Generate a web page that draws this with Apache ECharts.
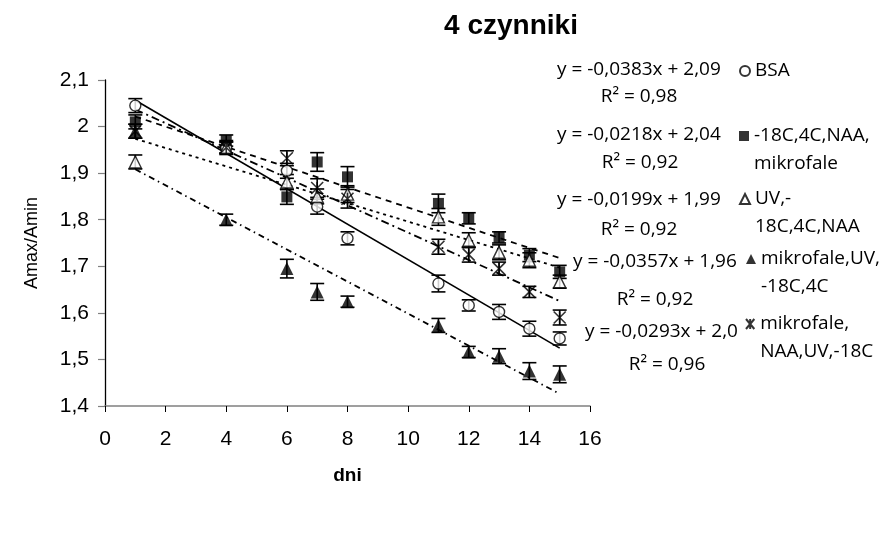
<!DOCTYPE html>
<html>
<head>
<meta charset="utf-8">
<script src="https://cdn.jsdelivr.net/npm/echarts@6/dist/echarts.min.js"></script>
<style>
  html, body { margin: 0; padding: 0; background: #fff; }
  #chart { width: 892px; height: 533px; }
</style>
</head>
<body>
<div id="chart"></div>
<script>
var days = [1, 4, 6, 7, 8, 11, 12, 13, 14, 15];

var bsa = [2.045, 1.955, 1.905, 1.828, 1.76, 1.663, 1.616, 1.602, 1.566, 1.545];
var sqr = [2.01, 1.97, 1.849, 1.924, 1.892, 1.835, 1.803, 1.762, 1.724, 1.688];
var triOpen = [1.924, 1.955, 1.881, 1.85, 1.855, 1.806, 1.756, 1.73, 1.713, 1.667];
var triFull = [1.99, 1.80, 1.695, 1.645, 1.624, 1.573, 1.516, 1.507, 1.475, 1.468];
var aster = [1.99, 1.955, 1.932, 1.868, 1.845, 1.742, 1.725, 1.695, 1.645, 1.59];

var errBsa = [0.015, 0.015, 0.016, 0.016, 0.014, 0.018, 0.012, 0.016, 0.016, 0.014];
var errSqr = [0.015, 0.012, 0.016, 0.02, 0.022, 0.02, 0.012, 0.012, 0.014, 0.014];
var errTriOpen = [0.015, 0.012, 0.016, 0.016, 0.018, 0.018, 0.016, 0.016, 0.016, 0.014];
var errTriFull = [0.015, 0.012, 0.02, 0.018, 0.012, 0.015, 0.012, 0.016, 0.018, 0.018];
var errAster = [0.015, 0.012, 0.016, 0.02, 0.02, 0.016, 0.016, 0.014, 0.012, 0.016];

var yTicks = [1.4, 1.5, 1.6, 1.7, 1.8, 1.9, 2.0, 2.1];

var names = ['BSA', '-18C,4C,NAA,mikrofale', 'UV,-18C,4C,NAA', 'mikrofale,UV,-18C,4C', 'mikrofale,NAA,UV,-18C'];
var legendLines = [['BSA'], ['-18C,4C,NAA,', 'mikrofale'], ['UV,-', '18C,4C,NAA'], ['mikrofale,UV,', '-18C,4C'], ['mikrofale,', 'NAA,UV,-18C']];
var equations = ['y = -0,0383x + 2,09', 'y = -0,0218x + 2,04', 'y = -0,0199x + 1,99', 'y = -0,0357x + 1,96', 'y = -0,0293x + 2,0'];
var rSquared = ['R² = 0,98', 'R² = 0,92', 'R² = 0,92', 'R² = 0,92', 'R² = 0,96'];

var allY = [bsa, sqr, triOpen, triFull, aster];
var allErr = [errBsa, errSqr, errTriOpen, errTriFull, errAster];

var dom = document.getElementById('chart');
var myChart = echarts.init(dom, null, { renderer: 'canvas' });

var FONT = 'Open Sans';
var asteriskPath = 'path://M0,0L10,12M10,0L0,12M5,0L5,12';

var markers = [
  { symbol: 'circle', size: 11, itemStyle: { color: '#fff', borderColor: '#000', borderWidth: 1.4 } },
  { symbol: 'rect', size: 11, itemStyle: { color: '#000' } },
  { symbol: 'triangle', size: 12, itemStyle: { color: '#fff', borderColor: '#000', borderWidth: 1.4 } },
  { symbol: 'triangle', size: 13, itemStyle: { color: '#000' } },
  { symbol: asteriskPath, size: 12, itemStyle: { color: '#000', borderColor: '#000', borderWidth: 1.6 } }
];
var dashes = ['solid', [6, 5], [3, 4], [6, 4, 1.5, 4], [8, 4, 2, 4]];

// least squares, like the Excel trendline
function fit(xs, ys) {
  var n = xs.length, mx = 0, my = 0;
  for (var i = 0; i < n; i++) { mx += xs[i]; my += ys[i]; }
  mx /= n; my /= n;
  var sxy = 0, sxx = 0;
  for (var j = 0; j < n; j++) {
    sxy += (xs[j] - mx) * (ys[j] - my);
    sxx += (xs[j] - mx) * (xs[j] - mx);
  }
  var a = sxy / sxx;
  return [a, my - a * mx];
}

function errorBars(params, api) {
  var x = api.value(0), y = api.value(1), e = api.value(2);
  var top = api.coord([x, y + e]);
  var bot = api.coord([x, y - e]);
  var w = 7;
  var st = { stroke: '#000', lineWidth: 1.6 };
  return {
    type: 'group',
    children: [
      { type: 'line', shape: { x1: top[0], y1: top[1], x2: bot[0], y2: bot[1] }, style: st },
      { type: 'line', shape: { x1: top[0] - w, y1: top[1], x2: top[0] + w, y2: top[1] }, style: st },
      { type: 'line', shape: { x1: bot[0] - w, y1: bot[1], x2: bot[0] + w, y2: bot[1] }, style: st }
    ]
  };
}

var series = [];
allY.forEach(function (ys, k) {
  var ab = fit(days, ys);
  var x0 = days[0], x1 = days[days.length - 1];
  series.push({
    type: 'line',
    silent: true,
    symbol: 'none',
    z: 1,
    lineStyle: { color: '#000', width: k === 0 ? 1.6 : 1.8, type: dashes[k] },
    data: [[x0, ab[0] * x0 + ab[1]], [x1, ab[0] * x1 + ab[1]]]
  });
  series.push({
    type: 'custom',
    silent: true,
    z: 2,
    renderItem: errorBars,
    encode: { x: 0, y: 1 },
    data: days.map(function (d, i) { return [d, ys[i], allErr[k][i]]; })
  });
});
allY.forEach(function (ys, k) {
  series.push({
    name: names[k],
    type: 'scatter',
    z: 3,
    symbol: markers[k].symbol,
    symbolSize: markers[k].size,
    itemStyle: markers[k].itemStyle,
    data: days.map(function (d, i) { return [d, ys[i]]; })
  });
});

// one legend per entry so the first text line sits beside its marker
var legendIconY = [71, 136, 199, 259, 324];
var legendX = [739, 739, 739, 746, 745];
var legends = names.map(function (nm, k) {
  var two = legendLines[k].length > 1;
  return {
    orient: 'vertical',
    left: legendX[k],
    top: legendIconY[k] - (two ? 42 : 14),
    padding: 0,
    itemWidth: 10,
    itemHeight: 10,
    itemGap: 0,
    selectedMode: false,
    data: [nm],
    formatter: function () { return (two ? '\n' : '') + legendLines[k].join('\n'); },
    textStyle: {
      fontFamily: FONT,
      fontSize: 19,
      lineHeight: 28,
      color: '#000'
    }
  };
});

// trendline labels: equation start x, line y; R² centre
var eqLeft = [557, 557, 557, 573, 585];
var eqY = [70, 135, 200, 262, 332];
var rPos = [[639, 97], [640, 163], [639, 230], [655, 300], [667, 365]];
var graphics = [];
equations.forEach(function (t, k) {
  graphics.push({
    type: 'text',
    x: eqLeft[k], y: eqY[k],
    style: { text: t, fill: '#000', font: '19px "Open Sans"', textAlign: 'left', textVerticalAlign: 'middle' }
  });
  graphics.push({
    type: 'text',
    x: rPos[k][0], y: rPos[k][1],
    style: { text: rSquared[k], fill: '#000', font: '19px "Open Sans"', textAlign: 'center', textVerticalAlign: 'middle' }
  });
});

var option = {
  backgroundColor: '#fff',
  animation: false,
  title: {
    text: '4 czynniki',
    left: 506,
    top: 7,
    textAlign: 'center',
    textStyle: { fontFamily: 'Liberation Sans', fontSize: 28, fontWeight: 'bold', color: '#000' }
  },
  legend: legends,
  grid: { left: 105, right: 302, top: 80, bottom: 127 },
  xAxis: {
    type: 'value',
    min: 0,
    max: 16,
    interval: 2,
    name: 'dni',
    nameLocation: 'middle',
    nameGap: 60,
    nameTextStyle: { fontFamily: 'Liberation Sans', fontSize: 19, fontWeight: 'bold', color: '#000' },
    axisLine: { lineStyle: { color: '#808080', width: 1.5 } },
    axisTick: { inside: false, length: 6, lineStyle: { color: '#000', width: 1 } },
    axisLabel: { margin: 23, fontFamily: 'Liberation Sans', fontSize: 21, color: '#000' },
    splitLine: { show: false }
  },
  yAxis: {
    type: 'value',
    min: yTicks[0],
    max: yTicks[yTicks.length - 1],
    interval: 0.1,
    name: 'Amax/Amin',
    nameLocation: 'middle',
    nameGap: 64,
    nameTextStyle: { fontFamily: 'Liberation Sans', fontSize: 18, color: '#000' },
    axisLine: { show: true, lineStyle: { color: '#000', width: 1.3 } },
    axisTick: { show: true, length: 7, lineStyle: { color: '#808080', width: 1.2 } },
    axisLabel: {
      margin: 16,
      fontFamily: 'Liberation Sans',
      fontSize: 21,
      color: '#000',
      formatter: function (v) { return String(Math.round(v * 10) / 10).replace('.', ','); }
    },
    splitLine: { show: false }
  },
  graphic: graphics,
  series: series
};

myChart.setOption(option);
window.addEventListener('resize', myChart.resize);
</script>
</body>
</html>
